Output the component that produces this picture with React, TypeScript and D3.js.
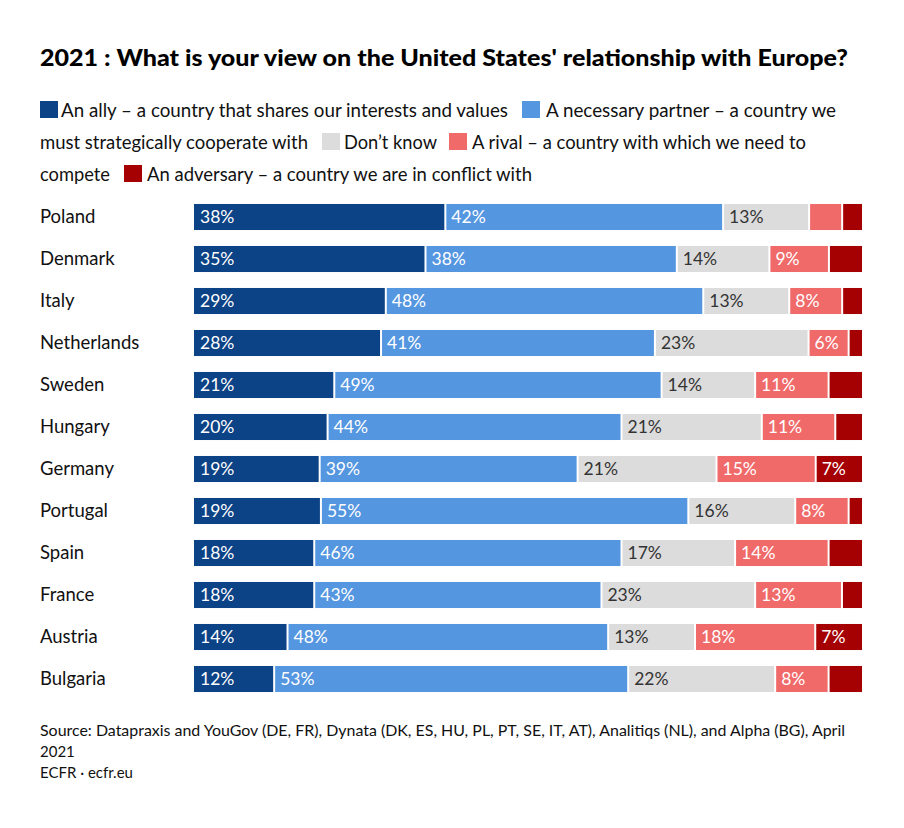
import React from "react";
import * as d3 from "d3";

const countries = ["Poland","Denmark","Italy","Netherlands","Sweden","Hungary","Germany","Portugal","Spain","France","Austria","Bulgaria"];
const ally = [38,35,29,28,21,20,19,19,18,18,14,12];
const partner = [42,38,48,41,49,44,39,55,46,43,48,53];
const dontKnow = [13,14,13,23,14,21,21,16,17,23,13,22];
const rival = [5,9,8,6,11,11,15,8,14,13,18,8];
const adversary = [3,5,3,2,5,4,7,2,5,3,7,5];

const seriesKeys = ["ally","partner","dk","rival","adversary"];
const colors = ["#0c4286","#5596e0","#dcdcdc","#f06a6a","#a50002"];
const labelColors = ["#fff","#fff","#333","#fff","#fff"];

const title = "2021 : What is your view on the United States' relationship with Europe?";
const legendTexts = [
  "An ally – a country that shares our interests and values",
  "A necessary partner – a country we",
  "must strategically cooperate with",
  "Don’t know",
  "A rival – a country with which we need to",
  "compete",
  "An adversary – a country we are in conflict with",
];
const sourceLines = [
  "Source: Datapraxis and YouGov (DE, FR), Dynata (DK, ES, HU, PL, PT, SE, IT, AT), Analitiqs (NL), and Alpha (BG), April",
  "2021",
  "ECFR · ecfr.eu",
];

const FONT = "Lato, 'Open Sans', sans-serif";

export default function App() {
  const W = 904, H = 828;
  const left = 194, right = 862;
  const rows = countries.map((c, i) => ({
    country: c,
    ally: ally[i], partner: partner[i], dk: dontKnow[i], rival: rival[i], adversary: adversary[i],
  }));
  const stack = d3.stack<any>().keys(seriesKeys).offset(d3.stackOffsetExpand);
  const stacked = stack(rows);
  const x = d3.scaleLinear().domain([0, 1]).range([left, right]);
  const y = d3.scaleBand().domain(countries).range([196, 700]).paddingInner(0.38).paddingOuter(0.19);

  // legend layout (positions)
  const sw = 18;
  const legendLayout = [
    { sx: 40, tx: 61, y: 117, w: 447, c: 0 },
    { sx: 522, tx: 546, y: 117, w: 290, c: 1 },
    { sx: null, tx: 40, y: 149, w: 268, c: -1 },
    { sx: 322, tx: 344, y: 149, w: 93, c: 2 },
    { sx: 449, tx: 472, y: 149, w: 334, c: 3 },
    { sx: null, tx: 40, y: 181, w: 70, c: -1 },
    { sx: 124, tx: 147, y: 181, w: 385, c: 4 },
  ];

  return (
    <svg width={W} height={H} style={{ display: "block", position: "absolute", left: 0, top: 0, background: "#fff" }} fontFamily={FONT}>
      <rect x={0} y={0} width={W} height={H} fill="#fff" />
      <text x={40} y={66} fontSize={23} fontWeight={900} fill="#000" textLength={808} lengthAdjust="spacingAndGlyphs">{title}</text>
      {legendLayout.map((p, i) => (
        <g key={i}>
          {p.sx !== null && <rect x={p.sx} y={p.y - 16} width={sw} height={17} fill={colors[p.c]} />}
          <text x={p.tx} y={p.y} fontSize={18.5} fill="#111" textLength={p.w} lengthAdjust="spacingAndGlyphs">{legendTexts[i]}</text>
        </g>
      ))}
      {rows.map((r) => (
        <text key={r.country} x={40} y={(y(r.country) as number) + y.bandwidth() / 2 + 6} fontSize={18.5} fill="#111">{r.country}</text>
      ))}
      {stacked.map((s, si) => (
        <g key={s.key}>
          {s.map((d, di) => {
            const x0 = x(d[0]), x1 = x(d[1]);
            const yy = y(countries[di]) as number;
            const v = (rows[di] as any)[s.key];
            return (
              <g key={di}>
                <rect x={x0 + (si > 0 ? 1 : 0)} y={yy} width={Math.max(0, x1 - x0 - (si > 0 ? 1 : 0) - (si < 4 ? 1 : 0))} height={y.bandwidth()} fill={colors[si]} />
                {v >= 6 && (
                  <text x={x0 + 6} y={yy + y.bandwidth() / 2 + 6} fontSize={17.5} fill={labelColors[si]}>{v}%</text>
                )}
              </g>
            );
          })}
        </g>
      ))}
      {sourceLines.map((t, i) => (
        <text key={i} x={40} y={736 + i * 21} fontSize={15} fill="#111" textLength={i === 0 ? 805 : undefined} lengthAdjust="spacingAndGlyphs">{t}</text>
      ))}
    </svg>
  );
}
